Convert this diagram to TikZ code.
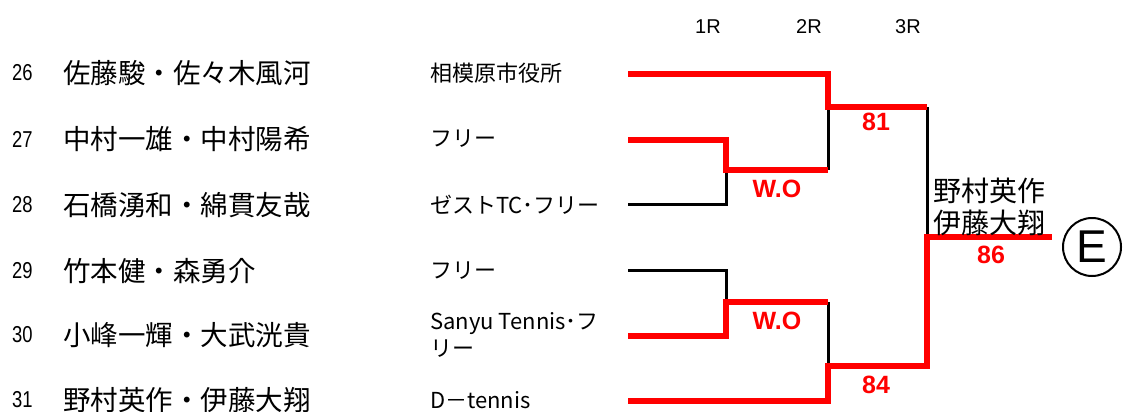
\documentclass[tikz,border=0pt]{standalone}
\usepackage{fontspec}
\setmainfont{Noto Sans CJK JP}
\newfontfamily\lat{Liberation Sans}
\newfontfamily\numf[FakeStretch=0.8]{Liberation Sans}
\definecolor{bred}{RGB}{255,0,0}
\begin{document}
\begin{tikzpicture}[x=1pt,y=-1pt,
 num/.style={anchor=west,inner sep=0,font=\numf\fontsize{23}{23}\selectfont},
 pname/.style={anchor=west,inner sep=0,font=\fontsize{27.5}{27.5}\selectfont},
 club/.style={anchor=west,inner sep=0,align=left,font=\fontsize{22}{27}\selectfont},
 hdr/.style={inner sep=0,font=\lat\fontsize{20}{20}\selectfont},
 score/.style={inner sep=0,text=bred,font=\lat\bfseries\fontsize{25}{25}\selectfont},
 win/.style={line width=5.5pt,draw=bred},
 lose/.style={line width=3pt,draw=black}]
\useasboundingbox (0,0) rectangle (1124,412);
% headers
\node[hdr] (h1) at (708,27) {1R};
\node[hdr] (h2) at (809,27) {2R};
\node[hdr] (h3) at (908,27) {3R};
% entries
\node[num] (n26) at (12,73) {26};
\node[num] (n27) at (12,139) {27};
\node[num] (n28) at (12,205) {28};
\node[num] (n29) at (12,271) {29};
\node[num] (n30) at (12,335) {30};
\node[num] (n31) at (12,400) {31};
\node[pname] (p26) at (63,73) {佐藤駿・佐々木風河};
\node[pname] (p27) at (63,139) {中村一雄・中村陽希};
\node[pname] (p28) at (63,205) {石橋湧和・綿貫友哉};
\node[pname] (p29) at (63,271) {竹本健・森勇介};
\node[pname] (p30) at (63,335) {小峰一輝・大武洸貴};
\node[pname] (p31) at (63,400) {野村英作・伊藤大翔};
\node[club] (c26) at (430,73) {相模原市役所};
\node[club] (c27) at (430,139) {フリー};
\node[club] (c28) at (430,205) {ゼストTC･フリー};
\node[club] (c29) at (430,271) {フリー};
\node[club] (c30) at (430,335) {Sanyu Tennis･フ\\リー};
\node[club] (c31) at (430,400) {D－tennis};
% bracket points
\coordinate (e1) at (628,74);
\coordinate (e2) at (628,140);
\coordinate (e3) at (628,204);
\coordinate (e4) at (628,270);
\coordinate (e5) at (628,336);
\coordinate (e6) at (628,401);
\coordinate (m12) at (726,170);
\coordinate (m45) at (726,302);
\coordinate (q1t) at (828,107);
\coordinate (q1b) at (828,170);
\coordinate (q2t) at (828,302);
\coordinate (q2b) at (828,366);
\coordinate (s1) at (927,107);
\coordinate (s2) at (927,366);
\coordinate (f) at (927,237);
\coordinate (fe) at (1052,237);
% losing lines
\draw[lose] (e3) -| (m12);
\draw[lose] (e4) -| (m45);
\draw[lose] (q1t) -- (q1b);
\draw[lose] (q2t) -- (q2b);
\draw[lose] (s1) -- (f);
% winning lines
\draw[win] (e1) -| (q1t) -- (s1);
\draw[win] (e2) -| (m12) -- (q1b);
\draw[win] (e5) -| (m45) -- (q2t);
\draw[win] (e6) -| (q2b) -- (s2) -- (f) -- (fe);
% scores
\node[score] (w1) at (777,189) {W.O};
\node[score] (w2) at (777,321) {W.O};
\node[score] (r81) at (876,122) {81};
\node[score] (r84) at (876,385) {84};
\node[score] (r86) at (991,255) {86};
% winner
\node[anchor=west,inner sep=0,align=left,font=\fontsize{28}{32}\selectfont] (w) at (933,207) {野村英作\\伊藤大翔};
\node[circle,draw,line width=2pt,minimum size=58pt,inner sep=0,font=\lat\fontsize{46}{46}\selectfont] (E) at (1092,247) {E};
\end{tikzpicture}
\end{document}
